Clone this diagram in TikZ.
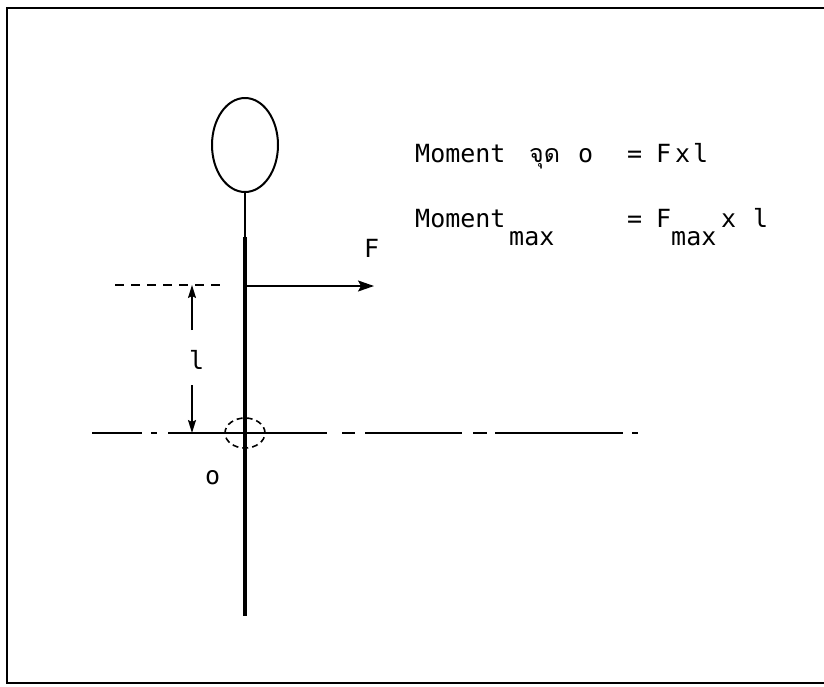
\documentclass[tikz,border=0pt]{standalone}
\usepackage{fontspec}
\setmainfont{DejaVu Sans Mono}
\newfontfamily\thaifont[Script=Thai]{Loma}
\usetikzlibrary{arrows.meta,shapes.geometric}
\begin{document}
\begin{tikzpicture}[x=1pt,y=-1pt,
  txt/.style={anchor=base west, inner sep=0pt, font=\fontsize{25}{30}\selectfont},
  frameline/.style={line width=2.4pt},
  axisline/.style={line width=1.6pt},
  tip/.style={-{Stealth[length=16pt,width=11pt,inset=3pt]}},
  dimhead/.style={-{Stealth[length=13pt,width=8pt,inset=2pt]}}]
\useasboundingbox (0,0) rectangle (824,686);
% frame
\draw[frameline] (824,8) -- (7,8) -- (7,683) -- (824,683);
% racket head and handle
\node[draw, ellipse, line width=2pt, minimum width=66pt, minimum height=94pt, inner sep=0pt] (head) at (245,145) {};
\coordinate (neck) at (245,237);
\coordinate (bottom) at (245,616);
\draw[line width=1.8pt] (head.south) -- (neck);
\draw[line width=4.2pt] (neck) -- (bottom);
% force
\coordinate (fstart) at (245,286);
\coordinate (fend) at (374,286);
\draw[tip, line width=1.6pt] (fstart) -- (fend);
\node[txt] (F) at (364,257) {F};
% dashed reference line
\coordinate (d1) at (115,285);
\coordinate (d2) at (226,285);
\draw[dash pattern=on 9pt off 7pt, line width=1.5pt] (d1) -- (d2);
% dimension l
\coordinate (dimtop) at (192,285);
\coordinate (dimbot) at (192,433);
\coordinate (dimm1) at (192,330);
\coordinate (dimm2) at (192,385);
\node[txt] (l) at (189,369) {l};
\draw[line width=1.5pt, dimhead] (dimm1) -- (dimtop);
\draw[line width=1.5pt, dimhead] (dimm2) -- (dimbot);
% axis line
\draw[axisline] (92,433) -- (142,433);
\draw[axisline] (151,433) -- (157,433);
\draw[axisline] (168,433) -- (327,433);
\draw[axisline] (342,433) -- (355,433);
\draw[axisline] (365,433) -- (462,433);
\draw[axisline] (473,433) -- (487,433);
\draw[axisline] (495,433) -- (623,433);
\draw[axisline] (632,433) -- (638,433);
% dashed circle at o
\node[draw, ellipse, dash pattern=on 6pt off 4pt, line width=1.6pt, minimum width=40pt, minimum height=30pt, inner sep=0pt] (circ) at (245,433) {};
\node[txt] (o) at (205,484) {o};
% formulas
\node[txt] (m1) at (415,162) {Moment};
\node[txt] (thai) at (529,162) {\thaifont\fontsize{25}{30}\selectfont จุด};
\node[txt] (o1) at (578,162) {o};
\node[txt] (eq1) at (627,162) {=};
\node[txt] (f1) at (656,162) {F};
\node[txt] (x1) at (675,162) {x};
\node[txt] (l1) at (693,162) {l};
\node[txt] (m2) at (415,227) {Moment};
\node[txt] (max1) at (509,245) {max};
\node[txt] (eq2) at (627,227) {=};
\node[txt] (f2) at (656,227) {F};
\node[txt] (max2) at (671,245) {max};
\node[txt] (x2) at (721,227) {x};
\node[txt] (l2) at (753,227) {l};
\end{tikzpicture}
\end{document}
